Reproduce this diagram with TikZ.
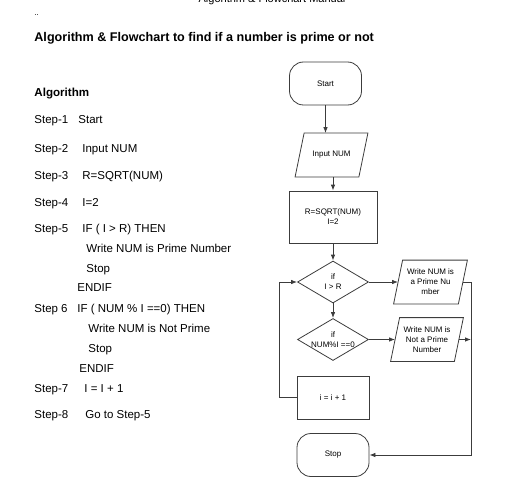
\documentclass[tikz,border=0pt]{standalone}
\usepackage{fontspec}
\setmainfont{Liberation Sans}
\usetikzlibrary{shapes.geometric,arrows.meta}

\definecolor{linegray}{HTML}{3C3C3C}
\newcommand{\algfont}{\fontsize{11.5}{14}\selectfont}
\newcommand{\flowfont}{\fontsize{8}{10}\selectfont}

\tikzset{
  algtext/.style={anchor=base west, inner sep=0pt, font=\algfont},
  startstop/.style={draw=linegray, rounded corners=14pt, minimum width=72pt, minimum height=43pt, inner sep=0pt, font=\flowfont},
  % parallelogram drawn round a plain box, top edge pushed right
  io/.style={rectangle, minimum width=63pt, minimum height=43pt, inner sep=0pt, align=center, font=\flowfont,
    append after command={\pgfextra{\draw[linegray]
      ([xshift=4.5pt]\tikzlastnode.north west) -- ([xshift=4.5pt]\tikzlastnode.north east)
      -- ([xshift=-4.5pt]\tikzlastnode.south east) -- ([xshift=-4.5pt]\tikzlastnode.south west) -- cycle;}}},
  process/.style={draw=linegray, rectangle, inner sep=0pt, align=center, font=\flowfont},
  decision/.style={draw=linegray, diamond, aspect=1.7, minimum width=71pt, minimum height=42pt, inner sep=0pt, align=center, font=\flowfont},
  arr/.style={draw=linegray, -{Latex[length=6pt,width=4.5pt]}},
}

\begin{document}
\begin{tikzpicture}[x=1pt, y=-1pt, line width=0.8pt]
\useasboundingbox (0,0) rectangle (519,500);
\clip (0,0) rectangle (519,500);

% page heading and title
\node[anchor=base, inner sep=0pt, font=\fontsize{11}{13}\selectfont] (head) at (272,3) {Algorithm \& Flowchart Manual};
\node[anchor=base west, inner sep=0pt, font=\fontsize{8}{10}\selectfont] (dots) at (34,16) {..};
\node[anchor=base west, inner sep=0pt, font=\fontsize{12.6}{15}\selectfont\bfseries] (title) at (34,42) {Algorithm \& Flowchart to find if a number is prime or not};

% algorithm
\node[algtext, font=\fontsize{11.6}{14}\selectfont\bfseries] (alg) at (34,97) {Algorithm};
\node[algtext] (s1) at (34,124) {Step-1};
\node[algtext] (s1t) at (78,124) {Start};
\node[algtext] (s2) at (34,152) {Step-2};
\node[algtext] (s2t) at (82,152) {Input NUM};
\node[algtext] (s3) at (34,179) {Step-3};
\node[algtext] (s3t) at (82,179) {R=SQRT(NUM)};
\node[algtext] (s4) at (34,206) {Step-4};
\node[algtext] (s4t) at (82,206) {I=2};
\node[algtext] (s5) at (34,232) {Step-5};
\node[algtext] (s5t) at (82,232) {IF ( I > R) THEN};
\node[algtext] (s5a) at (86,252) {Write NUM is Prime Number};
\node[algtext] (s5b) at (86,272) {Stop};
\node[algtext] (s5c) at (77,291) {ENDIF};
\node[algtext] (s6) at (34,312) {Step 6};
\node[algtext] (s6t) at (77,312) {IF ( NUM \% I ==0) THEN};
\node[algtext] (s6a) at (88,332) {Write NUM is Not Prime};
\node[algtext] (s6b) at (88,352) {Stop};
\node[algtext] (s6c) at (79,372) {ENDIF};
\node[algtext] (s7) at (34,392) {Step-7};
\node[algtext] (s7t) at (84,392) {I = I + 1};
\node[algtext] (s8) at (34,418) {Step-8};
\node[algtext] (s8t) at (85,418) {Go to Step-5};

% flowchart
\node[startstop] (start) at (325.5,83.5) {Start};
\node[io] (input) at (331.5,155) {Input NUM};
\node[process, minimum width=88pt, minimum height=52pt] (sqrt) at (333,217) {R=SQRT(NUM)\\I=2};
\node[decision] (ifr) at (333,282) {if\\I > R};
\node[io, minimum width=64pt] (prime) at (430.5,282) {Write NUM is\\a Prime Nu\\mber};
\node[decision] (ifmod) at (333,339.5) {if\\NUM\%I ==0};
\node[io] (notprime) at (427,339.5) {Write NUM is\\Not a Prime\\Number};
\node[process, minimum width=72pt, minimum height=43pt] (inc) at (333,397.5) {i = i + 1};
\node[startstop] (stop) at (333,455) {Stop};

\coordinate (rail) at (471,282);
\coordinate (loop) at (279,397.5);

\draw[arr] (start) -- (start |- input.north);
\draw[arr] (sqrt.north |- input.south) -- (sqrt.north);
\draw[arr] (sqrt) -- (ifr);
\draw[arr] (ifr.east) -- (prime);
\draw[arr] (ifr) -- (ifmod);
\draw[arr] (ifmod.east) -- (notprime);
\draw[arr] (notprime.east) -- (notprime.east -| rail);
\draw[arr] (prime.east) -- (rail) |- (stop.east);
\draw[arr] (inc.west) -- (loop) |- (ifr.west);
\end{tikzpicture}
\end{document}
